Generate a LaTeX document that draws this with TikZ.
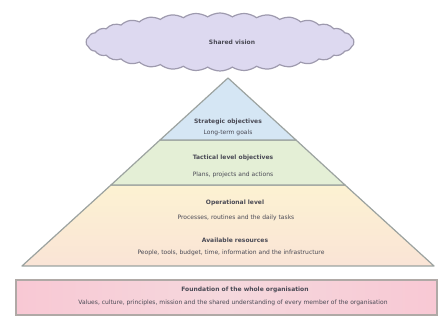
\documentclass[tikz,border=0pt]{standalone}
\usepackage{fontspec}
\setsansfont{DejaVu Sans}
\usetikzlibrary{shapes.symbols}
\definecolor{cloudfill}{HTML}{DDD9F0}
\definecolor{cloudline}{HTML}{9E9AAE}
\definecolor{bluefill}{HTML}{D5E6F4}
\definecolor{greenfill}{HTML}{E4EFD6}
\definecolor{yeltop}{HTML}{FCF2D2}
\definecolor{yelbot}{HTML}{FAE4D6}
\definecolor{pinkfill}{HTML}{F5D8DD}
\definecolor{pinkside}{HTML}{F8C8D4}
\definecolor{edge}{HTML}{9CA3A0}
\definecolor{txt}{HTML}{4A4A55}
\tikzset{
  layer/.style={draw=edge, line width=1.2pt, line join=round},
  lbl/.style={font=\sffamily\fontsize{6}{7}\selectfont, text=txt, inner sep=0pt},
  ttl/.style={font=\sffamily\bfseries\fontsize{6}{7}\selectfont, text=txt, inner sep=0pt}
}
\begin{document}
\begin{tikzpicture}[x=1pt,y=1pt]
\useasboundingbox[fill=white] (0,0) rectangle (440,321);
% cloud
\node[cloud, cloud puffs=34, cloud puff arc=70, cloud ignores aspect,
      minimum width=268pt, minimum height=58pt, draw=cloudline, line width=1.2pt,
      fill=cloudfill, inner sep=0pt] (cloud) at (220,279) {};
\node[ttl] (cloudtxt) at (232,279) {Shared vision};
% pyramid layers
\coordinate (apex) at (228,243);
\coordinate (b1l) at (160,181); \coordinate (b1r) at (296,181);
\coordinate (b2l) at (111,136); \coordinate (b2r) at (345,136);
\coordinate (b3l) at (22,55);   \coordinate (b3r) at (434,55);
\fill[top color=yeltop, bottom color=yelbot] (b2l) -- (b2r) -- (b3r) -- (b3l) -- cycle;
\draw[layer] (b2l) -- (b2r) -- (b3r) -- (b3l) -- cycle;
\draw[layer, fill=greenfill] (b1l) -- (b1r) -- (b2r) -- (b2l) -- cycle;
\draw[layer, fill=bluefill] (apex) -- (b1r) -- (b1l) -- cycle;
% texts in pyramid
\node[ttl] (t1a) at (228,199) {Strategic objectives};
\node[lbl] (t1b) at (228,188) {Long-term goals};
\node[ttl] (t2a) at (233,163) {Tactical level objectives};
\node[lbl] (t2b) at (233,146) {Plans, projects and actions};
\node[ttl] (t3a) at (235,118) {Operational level};
\node[lbl] (t3b) at (236,103) {Processes, routines and the daily tasks};
\node[ttl] (t3c) at (235,81) {Available resources};
\node[lbl] (t3d) at (231,68) {People, tools, budget, time, information and the infrastructure};
% foundation
\fill[left color=pinkside, right color=pinkside, middle color=pinkfill] (16,6) rectangle (437,41);
\draw[draw=edge!80!pink, line width=1.2pt] (16,6) rectangle (437,41);
\node[ttl] (t4a) at (245,31) {Foundation of the whole organisation};
\node[lbl] (t4b) at (233,18) {Values, culture, principles, mission and the shared understanding of every member of the organisation};
\end{tikzpicture}
\end{document}
